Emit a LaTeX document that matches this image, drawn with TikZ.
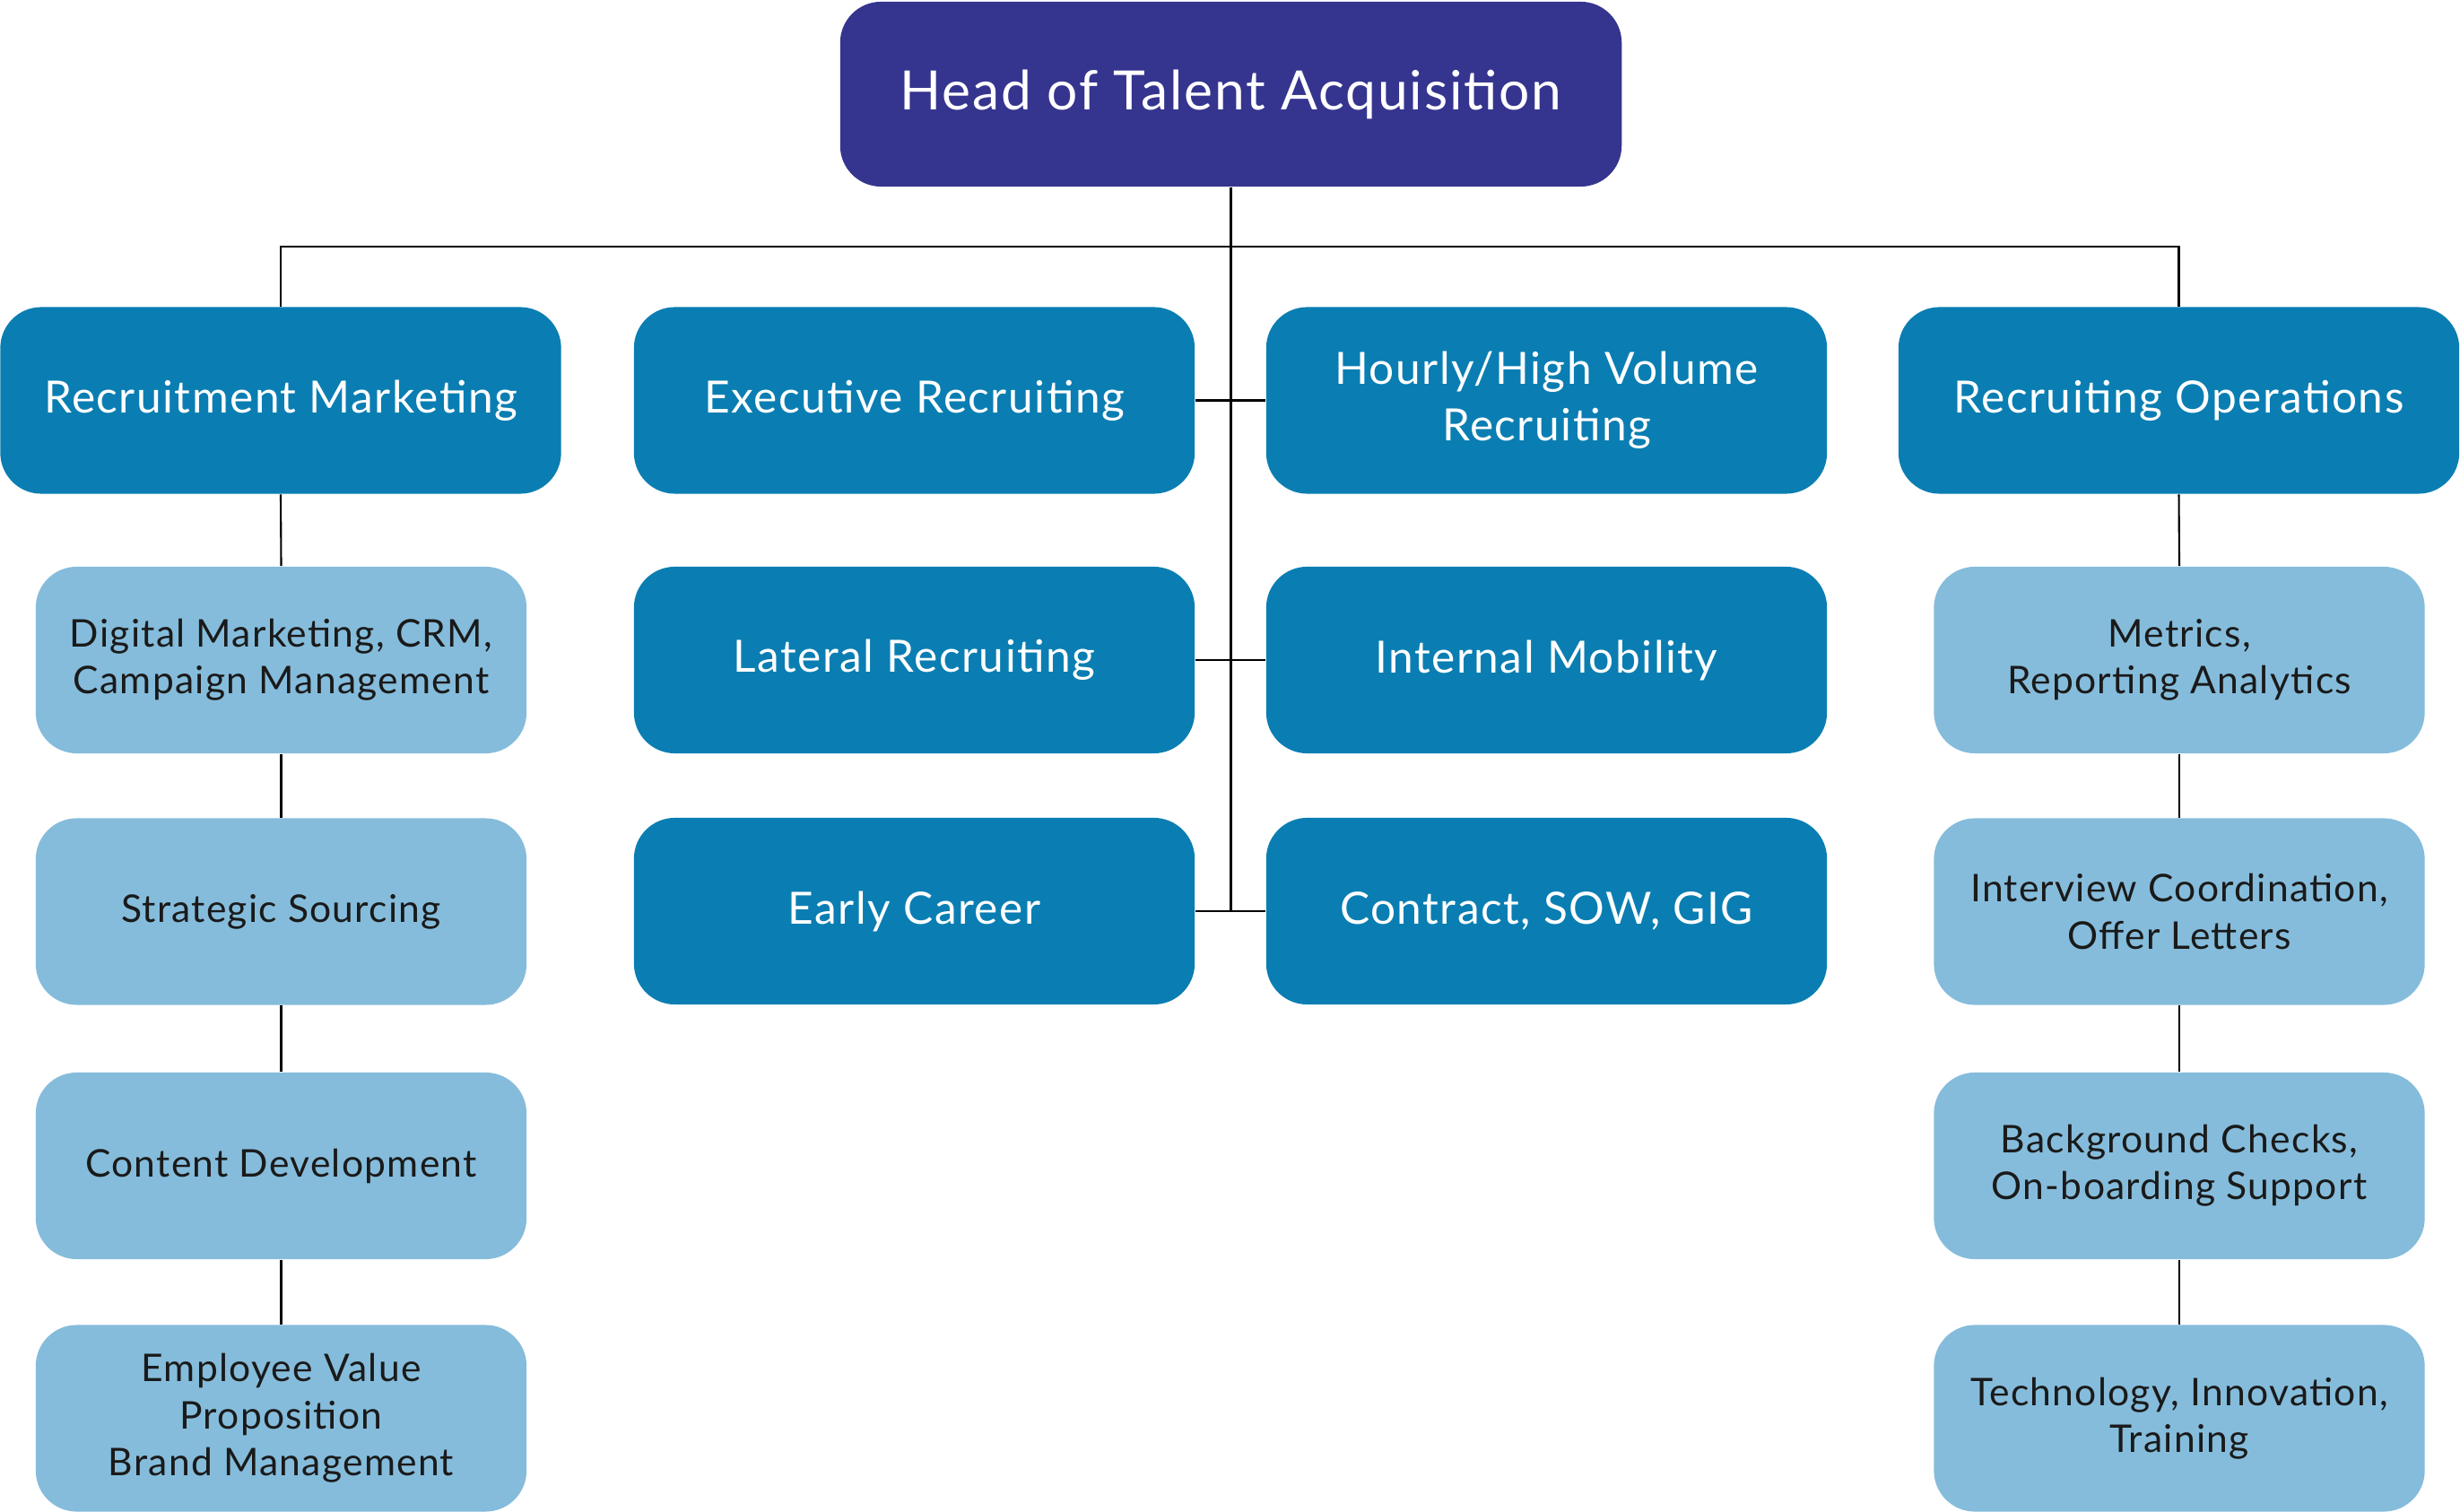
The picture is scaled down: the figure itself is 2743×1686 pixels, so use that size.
\documentclass[tikz,border=0pt]{standalone}
\usepackage{fontspec}
\setmainfont{Lato}[LetterSpace=3]
\definecolor{headc}{RGB}{53,53,143}
\definecolor{darkc}{RGB}{10,126,178}
\definecolor{lightc}{RGB}{133,188,219}
\definecolor{txtc}{RGB}{26,26,26}
\tikzset{
  headbox/.style={fill=headc, rounded corners=13pt, minimum width=8.71cm, minimum height=2.06cm, inner sep=0pt, align=center, text=white, font=\fontsize{17.2}{20}\selectfont},
  darkbox/.style={fill=darkc, rounded corners=13pt, minimum width=6.25cm, minimum height=2.08cm, inner sep=0pt, align=center, text=white, font=\fontsize{14.1}{17.9}\selectfont},
  lightbox/.style={fill=lightc, rounded corners=13pt, minimum width=5.47cm, minimum height=2.08cm, inner sep=0pt, align=center, text=txtc, font=\fontsize{12.1}{14.9}\selectfont},
  conn/.style={draw=black, line width=0.6pt}
}
\begin{document}
\begin{tikzpicture}[x=0.01cm,y=-0.01cm]
\useasboundingbox (0,0) rectangle (2743,1686);
% nodes
\node[headbox] (head) at (1372.5,105) {Head of Talent Acquisition};
\node[darkbox] (rm) at (313,446.5) {Recruitment Marketing};
\node[darkbox] (exe) at (1019.5,446.5) {Executive Recruiting};
\node[darkbox] (hourly) at (1724.5,446.5) {Hourly/High Volume\\Recruiting};
\node[darkbox] (ro) at (2429.5,446.5) {Recruiting Operations};
\node[darkbox] (lat) at (1019.5,736) {Lateral Recruiting};
\node[darkbox] (im) at (1724.5,736) {Internal Mobility};
\node[darkbox] (ec) at (1019.5,1016) {Early Career};
\node[darkbox] (csg) at (1724.5,1016) {Contract, SOW, GIG};
\node[lightbox] (dm) at (313.5,736) {Digital Marketing, CRM,\\Campaign Management};
\node[lightbox] (ss) at (313.5,1016.5) {Strategic Sourcing};
\node[lightbox] (cd) at (313.5,1300) {Content Development};
\node[lightbox] (evp) at (313.5,1581.5) {Employee Value\\Proposition\\Brand Management};
\node[lightbox] (met) at (2430,736) {Metrics,\\Reporting Analytics};
\node[lightbox] (ic) at (2430,1016.5) {Interview Coordination,\\Offer Letters};
\node[lightbox] (bg) at (2430,1300) {Background Checks,\\On-boarding Support};
\node[lightbox] (tech) at (2430,1581.5) {Technology, Innovation,\\Training};
% coordinates
\coordinate (bus) at (1372.5,275);
\coordinate (trunkend) at (1372.5,1016);
% connectors
\draw[conn] (head.south) -- (trunkend);
\draw[conn] (rm.north) |- (bus) -| (ro.north);
\draw[conn] (exe.east) -- (hourly.west);
\draw[conn] (lat.east) -- (im.west);
\draw[conn] (ec.east) -- (csg.west);
\draw[conn] (rm.south) -- (dm.north);
\draw[conn] (dm.south) -- (ss.north);
\draw[conn] (ss.south) -- (cd.north);
\draw[conn] (cd.south) -- (evp.north);
\draw[conn] (ro.south) -- (met.north);
\draw[conn] (met.south) -- (ic.north);
\draw[conn] (ic.south) -- (bg.north);
\draw[conn] (bg.south) -- (tech.north);
\end{tikzpicture}
\end{document}
